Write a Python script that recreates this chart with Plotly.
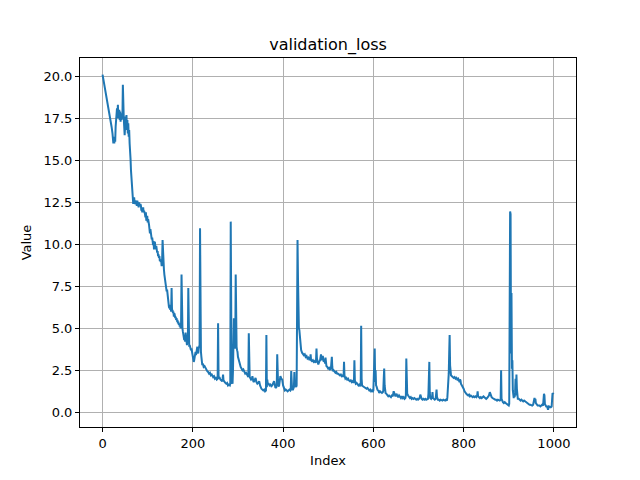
import plotly.graph_objects as go

# validation loss per index
index = [
    0, 2, 4, 6, 8, 10, 12, 14, 16, 18,
    20, 22, 24, 25, 26, 27, 28, 29, 30, 31,
    32, 33, 34, 35, 36, 37, 38, 39, 40, 41,
    42, 43, 44, 45, 46, 47, 48, 49, 50, 51,
    52, 53, 54, 55, 56, 57, 58, 59, 60, 61,
    62, 63, 64, 65, 66, 67, 68, 69, 70, 71,
    72, 73, 74, 76, 77, 78, 80, 81, 82, 84,
    85, 86, 87, 88, 89, 90, 91, 92, 94, 95,
    96, 97, 98, 99, 100, 101, 103, 104, 105, 106,
    107, 108, 109, 110, 111, 112, 113, 114, 115, 116,
    117, 118, 119, 120, 121, 122, 123, 124, 125, 126,
    127, 128, 129, 130, 131, 132, 133, 134, 135, 136,
    137, 138, 139, 140, 141, 142, 143, 144, 145, 146,
    147, 148, 149, 150, 151, 152, 153, 154, 155, 156,
    157, 158, 159, 160, 161, 162, 163, 164, 165, 166,
    167, 168, 169, 170, 171, 172, 173, 174, 175, 176,
    177, 178, 179, 180, 181, 182, 183, 184, 185, 186,
    187, 188, 189, 190, 191, 192, 193, 194, 195, 196,
    197, 198, 199, 200, 201, 202, 203, 204, 205, 206,
    207, 208, 209, 210, 211, 212, 213, 214, 215, 216,
    217, 218, 219, 220, 221, 222, 224, 226, 228, 230,
    232, 234, 236, 238, 240, 242, 243, 245, 247, 249,
    251, 253, 255, 256, 257, 258, 259, 261, 263, 265,
    266, 267, 268, 270, 272, 274, 276, 278, 280, 282,
    283, 284, 285, 286, 287, 288, 289, 290, 291, 292,
    293, 294, 295, 296, 297, 298, 299, 300, 302, 304,
    306, 308, 310, 312, 314, 316, 318, 320, 322, 323,
    324, 325, 326, 327, 329, 331, 332, 334, 335, 337,
    339, 341, 343, 345, 347, 349, 350, 352, 354, 356,
    358, 360, 362, 363, 364, 365, 366, 368, 370, 372,
    374, 376, 378, 380, 382, 383, 385, 386, 387, 388,
    389, 391, 393, 394, 396, 398, 400, 402, 404, 406,
    408, 410, 412, 414, 416, 417, 418, 419, 420, 422,
    424, 425, 426, 428, 429, 430, 431, 432, 433, 434,
    435, 436, 437, 438, 439, 440, 442, 444, 446, 448,
    450, 452, 454, 456, 458, 460, 461, 462, 464, 466,
    468, 470, 472, 473, 474, 475, 476, 478, 480, 482,
    484, 485, 486, 488, 489, 490, 492, 493, 494, 495,
    496, 498, 500, 502, 504, 506, 507, 508, 509, 510,
    512, 514, 516, 518, 520, 522, 524, 526, 528, 530,
    532, 534, 535, 536, 538, 540, 542, 544, 546, 548,
    550, 552, 554, 556, 557, 558, 559, 561, 563, 565,
    567, 569, 571, 572, 573, 574, 575, 577, 579, 581,
    583, 585, 587, 589, 591, 593, 595, 597, 599, 600,
    601, 602, 603, 604, 605, 606, 607, 609, 611, 613,
    615, 617, 619, 621, 622, 623, 624, 625, 626, 627,
    629, 631, 633, 635, 637, 639, 641, 643, 645, 647,
    649, 651, 653, 655, 657, 659, 661, 663, 665, 667,
    669, 671, 672, 673, 674, 675, 677, 679, 681, 683,
    685, 687, 689, 691, 693, 695, 697, 699, 701, 703,
    704, 705, 707, 709, 711, 713, 715, 717, 719, 721,
    722, 723, 724, 725, 726, 728, 730, 731, 732, 734,
    736, 738, 739, 740, 741, 743, 745, 747, 749, 751,
    753, 755, 757, 759, 761, 763, 764, 765, 766, 767,
    768, 769, 770, 771, 772, 774, 776, 778, 780, 782,
    784, 786, 788, 790, 791, 792, 793, 794, 796, 798,
    800, 802, 804, 806, 808, 810, 812, 814, 816, 818,
    820, 822, 824, 826, 828, 830, 831, 832, 834, 836,
    838, 840, 842, 844, 846, 848, 850, 852, 854, 856,
    858, 859, 860, 862, 864, 866, 868, 870, 872, 874,
    876, 878, 880, 882, 883, 884, 885, 887, 889, 891,
    893, 895, 897, 899, 900, 901, 902, 903, 904, 905,
    906, 907, 908, 909, 910, 911, 912, 913, 914, 915,
    916, 917, 918, 919, 920, 922, 924, 926, 928, 930,
    932, 934, 936, 938, 940, 942, 944, 946, 948, 950,
    952, 954, 955, 956, 957, 958, 959, 960, 962, 964,
    966, 968, 970, 972, 974, 976, 977, 978, 979, 980,
    981, 983, 985, 987, 989, 991, 993, 995, 996, 997,
    998, 999,
]

value = [
    20.1, 19.8, 19.5, 19.2, 18.95, 18.7, 18.4, 18.1, 17.8, 17.5,
    17.0, 16.6, 16.0, 16.3, 16.0, 16.4, 16.1, 17.0, 17.8, 17.5,
    18.1, 17.6, 18.3, 17.5, 17.9, 18.0, 17.4, 17.9, 17.3, 17.8,
    17.4, 17.6, 17.5, 19.5, 17.6, 17.5, 17.0, 16.5, 17.0, 17.6,
    17.3, 17.7, 16.8, 17.4, 16.6, 17.2, 16.4, 16.8, 16.0, 15.7,
    15.1, 14.4, 14.0, 13.4, 12.7, 12.6, 12.4, 12.6, 12.8, 12.5,
    12.4, 12.6, 12.5, 12.3, 12.6, 12.4, 12.2, 12.5, 12.3, 12.4,
    12.3, 12.0, 12.2, 11.9, 12.1, 12.2, 11.9, 12.0, 11.8, 11.6,
    11.9, 11.4, 11.5, 11.7, 11.3, 11.5, 11.15, 10.9, 10.65, 10.9,
    10.5, 10.6, 10.3, 10.4, 10.1, 9.95, 10.2, 9.7, 10.1, 10.15,
    9.8, 9.7, 9.9, 9.6, 9.5, 9.6, 9.3, 9.4, 9.2, 9.3,
    9.0, 9.1, 8.95, 9.0, 8.7, 9.1, 10.25, 9.0, 8.8, 8.5,
    8.2, 7.97, 7.8, 7.7, 7.5, 7.2, 7.3, 6.9, 7.1, 6.5,
    6.3, 6.2, 6.4, 6.1, 6.2, 6.0, 7.4, 6.0, 6.1, 5.9,
    6.0, 5.7, 5.9, 5.8, 5.6, 5.7, 5.5, 5.6, 5.4, 5.5,
    5.3, 5.4, 5.2, 5.3, 5.1, 5.2, 5.0, 5.3, 8.2, 5.2,
    5.0, 4.8, 4.5, 4.4, 4.3, 4.6, 4.2, 4.75, 4.3, 4.2,
    4.0, 4.3, 4.1, 7.4, 4.1, 3.9, 4.0, 3.8, 3.9, 3.7,
    3.8, 3.6, 3.55, 3.4, 3.3, 3.0, 3.1, 3.4, 3.5, 3.6,
    3.4, 3.7, 3.8, 3.9, 3.6, 3.5, 3.8, 3.9, 4.0, 10.95,
    3.9, 3.6, 3.3, 3.0, 2.8, 2.9, 2.7, 2.75, 2.65, 2.5,
    2.45, 2.4, 2.3, 2.35, 2.2, 2.25, 2.15, 2.1, 2.15, 2.0,
    2.05, 1.95, 2.0, 5.3, 2.2, 2.0, 2.1, 1.95, 1.9, 1.85,
    2.0, 2.25, 1.9, 1.8, 1.75, 1.7, 1.75, 1.6, 1.65, 1.6,
    1.7, 11.35, 1.9, 1.7, 1.85, 1.7, 2.5, 4.0, 5.6, 4.5,
    3.8, 3.9, 8.2, 4.5, 3.9, 3.7, 3.6, 3.3, 3.15, 2.9,
    2.7, 2.6, 2.5, 2.55, 2.4, 2.3, 2.35, 2.25, 2.2, 2.1,
    4.7, 2.3, 2.1, 2.05, 1.95, 2.0, 2.15, 1.85, 1.8, 1.9,
    2.05, 1.8, 1.7, 1.75, 1.85, 1.6, 1.45, 1.4, 1.35, 1.3,
    1.35, 1.25, 1.3, 4.6, 1.5, 1.95, 1.7, 1.7, 1.6, 1.65,
    1.55, 1.6, 1.7, 1.85, 1.6, 1.45, 1.5, 1.6, 3.45, 1.8,
    1.6, 1.55, 1.9, 2.15, 2.0, 1.95, 1.6, 1.35, 1.3, 1.35,
    1.3, 1.25, 1.3, 1.35, 1.3, 1.4, 2.45, 1.4, 1.35, 1.35,
    1.5, 2.4, 1.6, 1.55, 1.5, 1.6, 4.0, 10.25, 8.0, 5.5,
    5.0, 4.9, 4.5, 4.2, 3.9, 3.7, 3.55, 3.5, 3.4, 3.45,
    3.3, 3.35, 3.2, 3.25, 3.15, 3.2, 3.45, 3.1, 3.05, 3.1,
    3.0, 3.05, 2.95, 3.1, 3.8, 3.2, 2.95, 2.85, 3.0, 3.1,
    3.45, 3.2, 3.1, 3.35, 3.1, 3.0, 3.1, 2.9, 3.25, 2.8,
    2.75, 2.7, 2.6, 2.65, 2.55, 2.6, 2.8, 3.3, 2.7, 2.45,
    2.5, 2.4, 2.35, 2.4, 2.3, 2.3, 2.25, 2.2, 2.25, 2.15,
    2.2, 2.1, 3.0, 2.2, 2.0, 2.05, 1.95, 2.0, 1.9, 1.85,
    1.9, 1.8, 1.85, 1.75, 1.8, 3.1, 1.9, 1.7, 1.75, 1.65,
    1.6, 1.65, 1.55, 1.7, 5.15, 2.0, 1.6, 1.55, 1.5, 1.5,
    1.45, 1.4, 1.45, 1.35, 1.3, 1.35, 1.25, 1.3, 1.25, 1.3,
    2.0, 3.4, 3.8, 1.8, 2.5, 1.6, 1.55, 1.35, 1.3, 1.15,
    1.25, 1.2, 1.15, 1.2, 1.3, 2.0, 2.6, 1.6, 1.3, 1.15,
    1.1, 1.0, 0.95, 1.0, 0.95, 0.9, 1.0, 0.95, 1.25, 1.0,
    0.95, 1.1, 0.95, 0.9, 1.0, 0.9, 0.85, 0.95, 0.85, 0.9,
    0.8, 0.85, 1.0, 3.2, 1.4, 1.1, 1.0, 0.9, 0.85, 0.9,
    0.8, 0.85, 0.8, 0.85, 0.8, 0.75, 0.8, 0.75, 0.8, 0.9,
    1.05, 0.9, 0.8, 0.75, 0.8, 0.75, 0.8, 0.75, 0.8, 0.8,
    1.1, 2.0, 3.0, 1.2, 0.85, 0.8, 0.9, 1.2, 0.85, 0.8,
    0.75, 0.8, 1.0, 1.35, 0.9, 0.75, 0.75, 0.7, 0.75, 0.7,
    0.7, 0.75, 0.7, 0.7, 0.75, 0.7, 0.9, 1.3, 1.5, 2.3,
    3.5, 4.6, 2.8, 2.3, 2.2, 2.15, 2.1, 2.05, 2.1, 2.0,
    2.05, 1.95, 2.0, 1.9, 1.8, 1.95, 1.9, 1.7, 1.6, 1.55,
    1.4, 1.25, 1.15, 1.1, 1.05, 1.0, 1.05, 0.95, 1.0, 0.95,
    0.9, 0.95, 0.9, 0.95, 0.9, 1.0, 1.25, 0.95, 0.9, 0.85,
    0.9, 0.85, 0.9, 0.95, 0.9, 0.85, 0.8, 0.85, 0.9, 1.0,
    1.2, 1.1, 0.95, 0.9, 0.85, 0.8, 0.8, 0.75, 0.75, 0.7,
    0.75, 0.7, 0.7, 0.75, 2.5, 0.8, 0.65, 0.6, 0.55, 0.6,
    0.55, 0.5, 0.45, 0.45, 0.4, 0.5, 11.9, 11.95, 11.8, 3.5,
    7.1, 2.6, 3.1, 1.3, 0.85, 0.85, 1.0, 0.9, 1.2, 2.0,
    1.0, 2.25, 1.4, 0.9, 0.8, 0.8, 0.75, 0.7, 0.75, 0.7,
    0.65, 0.7, 0.65, 0.6, 0.6, 0.55, 0.5, 0.45, 0.45, 0.4,
    0.4, 0.45, 0.6, 0.7, 0.85, 0.7, 0.8, 0.55, 0.45, 0.4,
    0.4, 0.4, 0.35, 0.4, 0.45, 0.4, 0.6, 1.1, 1.0, 0.5,
    0.45, 0.35, 0.35, 0.15, 0.35, 0.3, 0.3, 0.35, 0.9, 1.15,
    1.1, 1.15,
]

x_ticks = [0, 200, 400, 600, 800, 1000]
y_ticks = [0.0, 2.5, 5.0, 7.5, 10.0, 12.5, 15.0, 17.5, 20.0]

assert len(index) == len(value)

font = "DejaVu Sans"

fig = go.Figure()
fig.add_trace(
    go.Scatter(
        x=index,
        y=value,
        mode="lines",
        line=dict(color="#1f77b4", width=2),
        hoverinfo="x+y",
    )
)

axis_style = dict(
    showline=True,
    linecolor="black",
    linewidth=1,
    mirror=True,
    showgrid=True,
    gridcolor="#b0b0b0",
    gridwidth=1,
    zeroline=False,
    ticks="outside",
    ticklen=4,
    tickwidth=1,
    tickcolor="black",
    tickfont=dict(family=font, size=13, color="black"),
)

fig.update_xaxes(
    range=[-49.95, 1048.95],
    tickvals=x_ticks,
    ticktext=[str(t) for t in x_ticks],
    title=dict(text="Index", font=dict(family=font, size=13, color="black"), standoff=6),
    **axis_style,
)
fig.update_yaxes(
    range=[-0.875, 21.09],
    tickvals=y_ticks,
    ticktext=[f"{t:.1f}" for t in y_ticks],
    title=dict(text="Value", font=dict(family=font, size=13, color="black"), standoff=8),
    **axis_style,
)

# the page body adds an 8px offset, so the margins are shifted to compensate
fig.update_layout(
    width=640,
    height=480,
    showlegend=False,
    plot_bgcolor="white",
    paper_bgcolor="white",
    margin=dict(l=72, r=72, t=50, b=61, autoexpand=False),
    title=dict(
        text="validation_loss",
        font=dict(family=font, size=16, color="black"),
        x=0.5,
        xref="paper",
        xanchor="center",
        y=1 - 36 / 480,
        yref="container",
        yanchor="middle",
    ),
)

fig.write_html("out.html")
